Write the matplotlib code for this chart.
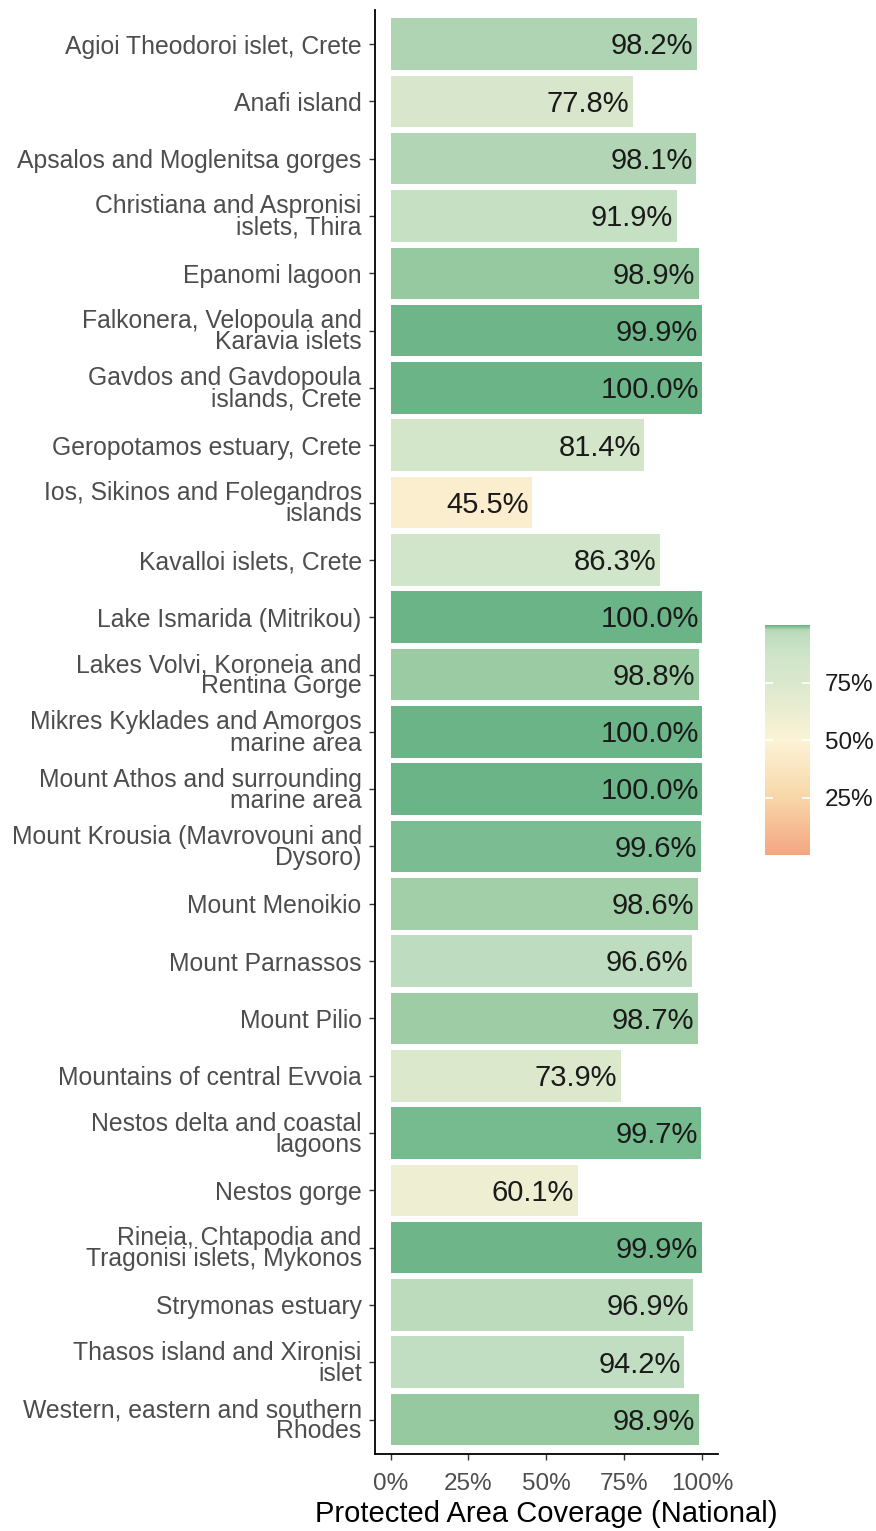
import matplotlib.pyplot as plt
import matplotlib.colors as mcolors
import numpy as np

plt.rcParams['font.family'] = ['Liberation Sans', 'DejaVu Sans']

sites = [
    "Agioi Theodoroi islet, Crete",
    "Anafi island",
    "Apsalos and Moglenitsa gorges",
    "Christiana and Aspronisi\nislets, Thira",
    "Epanomi lagoon",
    "Falkonera, Velopoula and\nKaravia islets",
    "Gavdos and Gavdopoula\nislands, Crete",
    "Geropotamos estuary, Crete",
    "Ios, Sikinos and Folegandros\nislands",
    "Kavalloi islets, Crete",
    "Lake Ismarida (Mitrikou)",
    "Lakes Volvi, Koroneia and\nRentina Gorge",
    "Mikres Kyklades and Amorgos\nmarine area",
    "Mount Athos and surrounding\nmarine area",
    "Mount Krousia (Mavrovouni and\nDysoro)",
    "Mount Menoikio",
    "Mount Parnassos",
    "Mount Pilio",
    "Mountains of central Evvoia",
    "Nestos delta and coastal\nlagoons",
    "Nestos gorge",
    "Rineia, Chtapodia and\nTragonisi islets, Mykonos",
    "Strymonas estuary",
    "Thasos island and Xironisi\nislet",
    "Western, eastern and southern\nRhodes",
]
coverage = [98.2, 77.8, 98.1, 91.9, 98.9, 99.9, 100.0, 81.4, 45.5, 86.3,
            100.0, 98.8, 100.0, 100.0, 99.6, 98.6, 96.6, 98.7, 73.9, 99.7,
            60.1, 99.9, 96.9, 94.2, 98.9]

# colour scale (value in %, colour)
scale_pos = [0, 25, 50, 75, 86.3, 91.9, 96.6, 98.1, 98.6, 98.9, 99.6, 100]
scale_col = ["#F4A582", "#F8D6A8", "#FCF3D6", "#DAE8CC", "#D0E5C9",
             "#C6E0C4", "#BEDCBF", "#B3D6B6", "#A2CEA8", "#97C9A0",
             "#7BBC93", "#6AB487"]
cmap = mcolors.LinearSegmentedColormap.from_list(
    "cov", [(p / 100, c) for p, c in zip(scale_pos, scale_col)], N=4096)
norm = mcolors.Normalize(0, 100)

fig = plt.figure(figsize=(8.76, 15.31), dpi=100)
ax = fig.add_axes([0.428, 0.0503, 0.3916, 0.9434])

y = np.arange(len(sites))
ax.barh(y, coverage, height=0.9, color=cmap(norm(np.array(coverage))))
for yi, v in zip(y, coverage):
    ax.text(v - 1.2, yi + 0.04, f"{v:.1f}%", ha='right', va='center',
            fontsize=21, color='#1a1a1a')

ax.set_ylim(len(sites) - 0.4, -0.6)
ax.set_xlim(-5, 105)
ax.set_yticks(y)
ax.set_yticklabels(sites, fontsize=17.8, color='#4D4D4D', linespacing=0.86)
ax.set_xticks([0, 25, 50, 75, 100])
ax.set_xticklabels(["0%", "25%", "50%", "75%", "100%"], fontsize=17.5,
                   color='#4D4D4D')
ax.tick_params(length=4, width=1, color='#333333')
ax.tick_params(axis='y', pad=5.5)
ax.tick_params(axis='x', pad=9.5)
ax.set_xlabel("Protected Area Coverage (National)", fontsize=21,
              color='black', labelpad=4)
for s in ['top', 'right']:
    ax.spines[s].set_visible(False)
for s in ['left', 'bottom']:
    ax.spines[s].set_linewidth(1.3)
    ax.spines[s].set_color('black')

cax = fig.add_axes([0.873, 0.4415, 0.0514, 0.150])
sm = plt.cm.ScalarMappable(norm=norm, cmap=cmap)
cb = fig.colorbar(sm, cax=cax, ticks=[25, 50, 75])
cb.outline.set_visible(False)
cb.set_ticklabels(["25%", "50%", "75%"])
cax.tick_params(axis='y', direction='in', length=6, width=1.2, color='white',
                left=True, right=True, labelcolor='#1a1a1a', labelsize=17.5,
                pad=11)

plt.savefig("out.png", dpi=100)
